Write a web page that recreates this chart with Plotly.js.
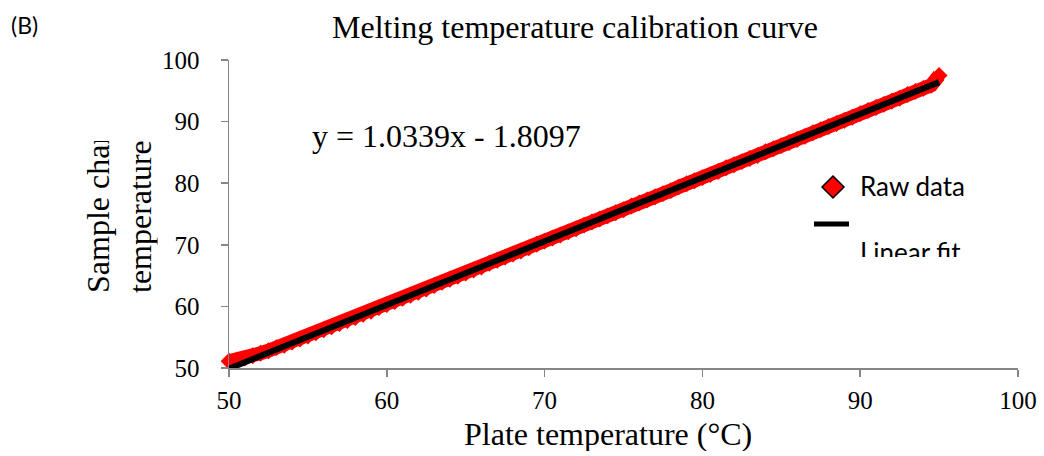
<!DOCTYPE html>
<html>
<head>
<meta charset="utf-8">
<script src="https://cdn.plot.ly/plotly-3.0.1.min.js"></script>
<style>html,body{margin:0;padding:0;background:#fff;}#chart{width:1044px;height:456px;}</style>
</head>
<body>
<div id="chart"></div>
<script>
// Raw calibration readings (plate temperature vs sample chamber temperature)
var plateTemp = [50,50.5,51,51.5,52,52.5,53,53.5,54,54.5,55,55.5,56,56.5,57,57.5,58,58.5,59,59.5,
  60,60.5,61,61.5,62,62.5,63,63.5,64,64.5,65,65.5,66,66.5,67,67.5,68,68.5,69,69.5,
  70,70.5,71,71.5,72,72.5,73,73.5,74,74.5,75,75.5,76,76.5,77,77.5,78,78.5,79,79.5,
  80,80.5,81,81.5,82,82.5,83,83.5,84,84.5,85,85.5,86,86.5,87,87.5,88,88.5,89,89.5,
  90,90.5,91,91.5,92,92.5,93,93.5,94,94.5,95];
var sampleTemp = [51.1,51.3,51.6,52.0,52.4,52.8,53.3,53.7,54.2,54.7,55.2,55.7,56.2,56.7,57.2,57.7,58.2,58.7,59.2,59.8,
  60.3,60.8,61.3,61.8,62.3,62.8,63.4,63.9,64.4,64.9,65.4,65.9,66.4,67.0,67.5,68.0,68.5,69.0,69.5,70.1,
  70.6,71.1,71.6,72.1,72.6,73.2,73.7,74.2,74.7,75.2,75.7,76.3,76.8,77.3,77.8,78.3,78.8,79.4,79.9,80.4,
  80.9,81.4,81.9,82.5,83.0,83.5,84.0,84.5,85.1,85.6,86.1,86.6,87.1,87.6,88.2,88.7,89.2,89.7,90.2,90.7,
  91.3,91.8,92.3,92.8,93.3,93.8,94.4,94.9,95.4,95.9,97.5];
// Linear fit end points (y = 1.0339x - 1.8097)
var fitX = [50, 95];
var fitY = [49.89, 96.41];
var xTicks = [50, 60, 70, 80, 90, 100];
var yTicks = [50, 60, 70, 80, 90, 100];
var titleText = "Melting temperature calibration curve";
var xTitle = "Plate temperature (°C)";
var yTitle = "Sample chamber<br>temperature";
var eqText = "y = 1.0339x - 1.8097";
var legendNames = ["Raw data", "Linear fit"];

var serif = "Liberation Serif, Times New Roman, serif";
var sans = "Lato, Carlito, Calibri, sans-serif";
var axisCol = "#868686";

var traces = [
  {x: plateTemp, y: sampleTemp, mode: "lines", line: {color: "#ff0000", width: 14},
   showlegend: false, hoverinfo: "skip"},
  {x: plateTemp, y: sampleTemp, mode: "markers", name: legendNames[0], cliponaxis: false,
   marker: {symbol: "diamond", size: 13, color: "#ff0000", line: {width: 0}}, showlegend: false},
  {x: fitX, y: fitY, mode: "lines", name: legendNames[1], line: {color: "#000000", width: 6},
   showlegend: false}
];

function px2x(p){ return (p - 229) / 789; }
function px2y(p){ return (368 - p) / 308; }

var layout = {
  width: 1044, height: 456,
  margin: {l: 229, r: 26, t: 60, b: 88, pad: 0},
  paper_bgcolor: "#ffffff", plot_bgcolor: "#ffffff",
  showlegend: false,
  title: {text: titleText, font: {family: serif, size: 32, color: "#000"},
          xref: "container", x: 575/1044, xanchor: "center", yref: "container", y: 1 - 27/456, yanchor: "middle"},
  xaxis: {range: [50, 100], tickvals: xTicks, ticktext: xTicks.map(String),
          showgrid: false, zeroline: false, showline: true, linecolor: axisCol, linewidth: 1.5,
          ticks: "outside", ticklen: 7, tickwidth: 1.5, tickcolor: axisCol,
          tickfont: {family: serif, size: 25, color: "#000"}, ticklabelstandoff: 2, fixedrange: true},
  yaxis: {range: [50, 100], tickvals: yTicks, ticktext: yTicks.map(String),
          showgrid: false, zeroline: false, showline: true, linecolor: axisCol, linewidth: 1.5,
          ticks: "outside", ticklen: 7, tickwidth: 1.5, tickcolor: axisCol,
          tickfont: {family: serif, size: 25, color: "#000"}, ticklabelstandoff: 16, fixedrange: true},
  shapes: [
    {type: "path", xref: "paper", yref: "paper",
     path: "M " + px2x(822) + " " + px2y(187) + " L " + px2x(833) + " " + px2y(176) + " L " + px2x(844) + " " + px2y(187) + " L " + px2x(833) + " " + px2y(198) + " Z",
     fillcolor: "#ff0000", line: {color: "#000", width: 1.5}},
    {type: "line", xref: "paper", yref: "paper", x0: px2x(814), x1: px2x(849), y0: px2y(224), y1: px2y(224),
     line: {color: "#000", width: 5}}
  ],
  annotations: [
    {text: "(B)", xref: "paper", yref: "paper", x: px2x(9), y: px2y(25), xanchor: "left", yanchor: "middle",
     showarrow: false, font: {family: sans, size: 23, color: "#000"}},
    {text: eqText, xref: "paper", yref: "paper", x: px2x(446), y: px2y(136), xanchor: "center", yanchor: "middle",
     showarrow: false, font: {family: serif, size: 32, color: "#000"}},
    {text: xTitle, xref: "paper", yref: "paper", x: px2x(608), y: px2y(434), xanchor: "center", yanchor: "middle",
     height: 34, showarrow: false, font: {family: serif, size: 32, color: "#000"}},
    {text: yTitle, xref: "paper", yref: "paper", x: px2x(119), y: px2y(217), xanchor: "center", yanchor: "middle",
     textangle: -90, align: "left", width: 152, showarrow: false, font: {family: serif, size: 32, color: "#000"}},
    {text: legendNames[0], xref: "paper", yref: "paper", x: px2x(858), y: px2y(186), xanchor: "left", yanchor: "middle",
     showarrow: false, font: {family: sans, size: 26, color: "#000"}},
    {text: legendNames[1], xref: "paper", yref: "paper", x: px2x(858), y: px2y(234), xanchor: "left", yanchor: "top",
     height: 21, valign: "top", showarrow: false, font: {family: sans, size: 26, color: "#000"}}
  ]
};

Plotly.newPlot("chart", traces, layout, {staticPlot: true, displayModeBar: false});
</script>
</body>
</html>
